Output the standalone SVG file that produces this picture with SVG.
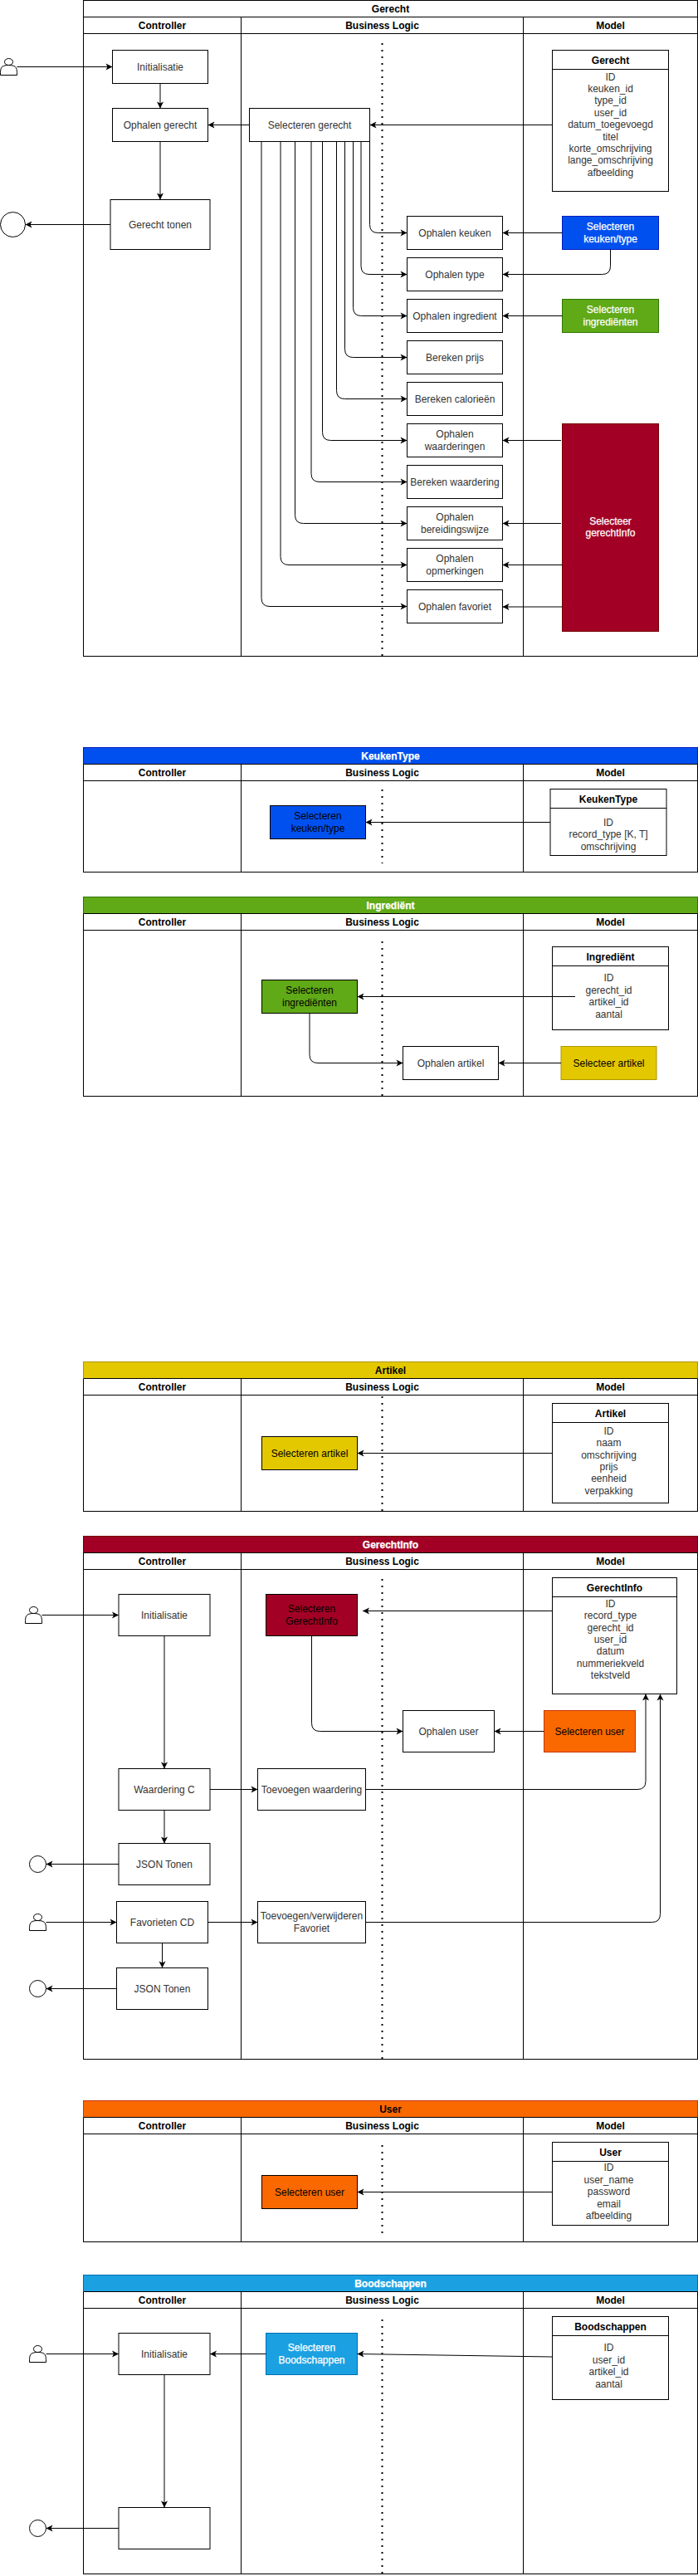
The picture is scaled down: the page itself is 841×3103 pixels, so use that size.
<svg xmlns="http://www.w3.org/2000/svg" width="841" height="3103" viewBox="0 0 841 3103">
<style>
text{font-family:"Liberation Sans",Arial,sans-serif;font-size:12px;text-anchor:middle;fill:#333}
.b{font-weight:bold;fill:#000}
.w{fill:#fff;stroke:#fff;stroke-width:.25}
rect,path.s,ellipse{stroke:#000;fill:#fff}
.l{stroke:#000;fill:none}
.d{stroke:#000;stroke-width:2;stroke-dasharray:2 6;fill:none}
.c{stroke:#000;fill:none;marker-end:url(#a)}
.blue{fill:#0050ef;stroke:#001dbc}
.green{fill:#60a917;stroke:#2d7600}
.yellow{fill:#e3c800;stroke:#b09500}
.red{fill:#a20025;stroke:#6f0000}
.orange{fill:#fa6800;stroke:#c73500}
.sky{fill:#1ba1e2;stroke:#006eaf}
.blueK{fill:#0050ef}.greenK{fill:#60a917}.yellowK{fill:#e3c800}.redK{fill:#a20025}.orangeK{fill:#fa6800}
.blueK~text,.greenK~text,.yellowK~text,.redK~text,.orangeK~text,.yellow~text,.orange~text{fill:#000}
</style>
<defs>
<marker id="a" markerUnits="userSpaceOnUse" markerWidth="10" markerHeight="10" refX="8" refY="4" orient="auto" overflow="visible"><path d="M0 0L8 4L0 8L2 4Z" fill="#000"/></marker>
</defs>

<g id="lane-gerecht">
<rect x="100.5" y="0.5" width="740" height="790"/><path class="l" d="M100.5 20.5H840.5M100.5 40.5H840.5M290.5 20.5V790.5M630.5 20.5V790.5"/>
<text class="b" x="470.5" y="14.5">Gerecht</text><text class="b" x="195.5" y="34.5">Controller</text><text class="b" x="460.5" y="34.5">Business Logic</text><text class="b" x="735.5" y="34.5">Model</text>
<path class="d" d="M460.5 52V790"/>
</g>
<g id="lane-keukentype">
<rect x="100.5" y="900.5" width="740" height="150"/><rect class="blue" x="100.5" y="900.5" width="740" height="20"/><path class="l" d="M100.5 920.5H840.5M100.5 940.5H840.5M290.5 920.5V1050.5M630.5 920.5V1050.5"/>
<text class="b w" x="470.5" y="914.5">KeukenType</text><text class="b" x="195.5" y="934.5">Controller</text><text class="b" x="460.5" y="934.5">Business Logic</text><text class="b" x="735.5" y="934.5">Model</text>
<path class="d" d="M460.5 951V1040"/>
</g>
<g id="lane-ingredient">
<rect x="100.5" y="1080.5" width="740" height="240"/><rect class="green" x="100.5" y="1080.5" width="740" height="20"/><path class="l" d="M100.5 1100.5H840.5M100.5 1120.5H840.5M290.5 1100.5V1320.5M630.5 1100.5V1320.5"/>
<text class="b w" x="470.5" y="1094.5">Ingrediënt</text><text class="b" x="195.5" y="1114.5">Controller</text><text class="b" x="460.5" y="1114.5">Business Logic</text><text class="b" x="735.5" y="1114.5">Model</text>
<path class="d" d="M460.5 1134V1320"/>
</g>
<g id="lane-artikel">
<rect x="100.5" y="1640.5" width="740" height="180"/><rect class="yellow" x="100.5" y="1640.5" width="740" height="20"/><path class="l" d="M100.5 1660.5H840.5M100.5 1680.5H840.5M290.5 1660.5V1820.5M630.5 1660.5V1820.5"/>
<text class="b" x="470.5" y="1654.5">Artikel</text><text class="b" x="195.5" y="1674.5">Controller</text><text class="b" x="460.5" y="1674.5">Business Logic</text><text class="b" x="735.5" y="1674.5">Model</text>
<path class="d" d="M460.5 1682V1820"/>
</g>
<g id="lane-gerechtinfo">
<rect x="100.5" y="1850.5" width="740" height="630"/><rect class="red" x="100.5" y="1850.5" width="740" height="20"/><path class="l" d="M100.5 1870.5H840.5M100.5 1890.5H840.5M290.5 1870.5V2480.5M630.5 1870.5V2480.5"/>
<text class="b w" x="470.5" y="1864.5">GerechtInfo</text><text class="b" x="195.5" y="1884.5">Controller</text><text class="b" x="460.5" y="1884.5">Business Logic</text><text class="b" x="735.5" y="1884.5">Model</text>
<path class="d" d="M460.5 1902V2480"/>
</g>
<g id="lane-user">
<rect x="100.5" y="2530.5" width="740" height="170"/><rect class="orange" x="100.5" y="2530.5" width="740" height="20"/><path class="l" d="M100.5 2550.5H840.5M100.5 2570.5H840.5M290.5 2550.5V2700.5M630.5 2550.5V2700.5"/>
<text class="b" x="470.5" y="2544.5">User</text><text class="b" x="195.5" y="2564.5">Controller</text><text class="b" x="460.5" y="2564.5">Business Logic</text><text class="b" x="735.5" y="2564.5">Model</text>
<path class="d" d="M460.5 2584V2690"/>
</g>
<g id="lane-boodschappen">
<rect x="100.5" y="2740.5" width="740" height="360"/><rect class="sky" x="100.5" y="2740.5" width="740" height="20"/><path class="l" d="M100.5 2760.5H840.5M100.5 2780.5H840.5M290.5 2760.5V3100.5M630.5 2760.5V3100.5"/>
<text class="b w" x="470.5" y="2754.5">Boodschappen</text><text class="b" x="195.5" y="2774.5">Controller</text><text class="b" x="460.5" y="2774.5">Business Logic</text><text class="b" x="735.5" y="2774.5">Model</text>
<path class="d" d="M460.5 2794V3100"/>
</g>

<g id="g-actor"><path class="s" d="M0.5 90.5C0.5 82.5 0.5 78.5 10.5 78.5C3.83 78.5 3.83 70.5 10.5 70.5C17.17 70.5 17.17 78.5 10.5 78.5C20.5 78.5 20.5 82.5 20.5 90.5Z"/></g>
<g id="g-end"><ellipse cx="15.5" cy="270.5" rx="15" ry="15"/></g>
<g id="g-init"><rect x="135.5" y="60.5" width="115" height="40"/><text x="193" y="84.5">Initialisatie</text></g>
<g id="g-ophalen"><rect x="135.5" y="130.5" width="115" height="40"/><text x="193" y="154.5">Ophalen gerecht</text></g>
<g id="g-tonen"><rect x="133" y="240.5" width="120" height="60"/><text x="193" y="274.5">Gerecht tonen</text></g>
<g id="g-selecteren"><rect x="300.5" y="130.5" width="145" height="40"/><text x="373" y="154.5">Selecteren gerecht</text></g>
<g id="g-entity"><rect x="665.5" y="60.5" width="140" height="170"/><path class="l" d="M665.5 83.5H805.5"/><text class="b" x="735.5" y="76.5">Gerecht</text>
<text x="735.5" y="82.1"><tspan x="735.5" dy="14.4">ID</tspan><tspan x="735.5" dy="14.4">keuken_id</tspan><tspan x="735.5" dy="14.4">type_id</tspan><tspan x="735.5" dy="14.4">user_id</tspan><tspan x="735.5" dy="14.4">datum_toegevoegd</tspan><tspan x="735.5" dy="14.4">titel</tspan><tspan x="735.5" dy="14.4">korte_omschrijving</tspan><tspan x="735.5" dy="14.4">lange_omschrijving</tspan><tspan x="735.5" dy="14.4">afbeelding</tspan></text></g>
<g id="g-keuken"><rect x="490.5" y="260.5" width="115" height="40"/><text x="548" y="284.5">Ophalen keuken</text></g>
<g id="g-type"><rect x="490.5" y="310.5" width="115" height="40"/><text x="548" y="334.5">Ophalen type</text></g>
<g id="g-ingredient"><rect x="490.5" y="360.5" width="115" height="40"/><text x="548" y="384.5">Ophalen ingredient</text></g>
<g id="g-prijs"><rect x="490.5" y="410.5" width="115" height="40"/><text x="548" y="434.5">Bereken prijs</text></g>
<g id="g-calorie"><rect x="490.5" y="460.5" width="115" height="40"/><text x="548" y="484.5">Bereken calorieën</text></g>
<g id="g-waarderingen"><rect x="490.5" y="510.5" width="115" height="40"/><text x="548" y="527.3">Ophalen</text><text x="548" y="541.7">waarderingen</text></g>
<g id="g-waardering"><rect x="490.5" y="560.5" width="115" height="40"/><text x="548" y="584.5">Bereken waardering</text></g>
<g id="g-bereiding"><rect x="490.5" y="610.5" width="115" height="40"/><text x="548" y="627.3">Ophalen</text><text x="548" y="641.7">bereidingswijze</text></g>
<g id="g-opmerkingen"><rect x="490.5" y="660.5" width="115" height="40"/><text x="548" y="677.3">Ophalen</text><text x="548" y="691.7">opmerkingen</text></g>
<g id="g-favoriet"><rect x="490.5" y="710.5" width="115" height="40"/><text x="548" y="734.5">Ophalen favoriet</text></g>
<g id="g-sel-keuken"><rect class="blue" x="677.5" y="260.5" width="116" height="40"/><text class="w" x="735.5" y="277.3">Selecteren</text><text class="w" x="735.5" y="291.7">keuken/type</text></g>
<g id="g-sel-ingredienten"><rect class="green" x="677.5" y="360.5" width="116" height="40"/><text class="w" x="735.5" y="377.3">Selecteren</text><text class="w" x="735.5" y="391.7">ingrediënten</text></g>
<g id="g-sel-info"><rect class="red" x="677.5" y="510.5" width="116" height="250"/><text class="w" x="735.5" y="632">Selecteer</text><text class="w" x="735.5" y="646.4">gerechtInfo</text></g>

<g id="k-sel"><rect class="blueK" x="325.5" y="970.5" width="115" height="40"/><text x="383" y="987.3">Selecteren</text><text x="383" y="1001.7">keuken/type</text></g>
<g id="k-entity"><rect x="663" y="950.5" width="140" height="80"/><path class="l" d="M663 973.5H803"/><text class="b" x="733" y="966.5">KeukenType</text>
<text x="733" y="980.3"><tspan x="733" dy="14.4">ID</tspan><tspan x="733" dy="14.4">record_type [K, T]</tspan><tspan x="733" dy="14.4">omschrijving</tspan></text></g>

<g id="i-sel"><rect class="greenK" x="315.5" y="1180.5" width="115" height="40"/><text x="373" y="1197.3">Selecteren</text><text x="373" y="1211.7">ingrediënten</text></g>
<g id="i-entity"><rect x="665.5" y="1140.5" width="140" height="100"/><path class="l" d="M665.5 1163.5H805.5"/><text class="b" x="735.5" y="1156.5">Ingrediënt</text>
<text x="733.5" y="1167.9"><tspan x="733.5" dy="14.4">ID</tspan><tspan x="733.5" dy="14.4">gerecht_id</tspan><tspan x="733.5" dy="14.4">artikel_id</tspan><tspan x="733.5" dy="14.4">aantal</tspan></text></g>
<g id="i-artikel"><rect x="485.5" y="1260.5" width="115" height="40"/><text x="543" y="1284.5">Ophalen artikel</text></g>
<g id="i-sel-artikel"><rect class="yellow" x="676" y="1260.5" width="115" height="40"/><text x="733.5" y="1284.5">Selecteer artikel</text></g>

<g id="a-sel"><rect class="yellowK" x="315.5" y="1730.5" width="115" height="40"/><text x="373" y="1754.5">Selecteren artikel</text></g>
<g id="a-entity"><rect x="665.5" y="1690.5" width="140" height="120"/><path class="l" d="M665.5 1713.5H805.5"/><text class="b" x="735.5" y="1706.5">Artikel</text>
<text x="733.5" y="1713.4"><tspan x="733.5" dy="14.4">ID</tspan><tspan x="733.5" dy="14.4">naam</tspan><tspan x="733.5" dy="14.4">omschrijving</tspan><tspan x="733.5" dy="14.4">prijs</tspan><tspan x="733.5" dy="14.4">eenheid</tspan><tspan x="733.5" dy="14.4">verpakking</tspan></text></g>

<g id="gi-actor1"><path class="s" d="M30.5 1955.5C30.5 1947.5 30.5 1943.5 40.5 1943.5C33.83 1943.5 33.83 1935.5 40.5 1935.5C47.17 1935.5 47.17 1943.5 40.5 1943.5C50.5 1943.5 50.5 1947.5 50.5 1955.5Z"/></g>
<g id="gi-init"><rect x="143" y="1920.5" width="110" height="50"/><text x="198" y="1949.5">Initialisatie</text></g>
<g id="gi-sel"><rect class="redK" x="320.5" y="1920.5" width="110" height="50"/><text x="375.5" y="1942.3">Selecteren</text><text x="375.5" y="1956.7">GerechtInfo</text></g>
<g id="gi-entity"><rect x="665.5" y="1900.5" width="150" height="140"/><path class="l" d="M665.5 1923.5H815.5"/><text class="b" x="740.5" y="1916.5">GerechtInfo</text>
<text x="735.5" y="1921.3"><tspan x="735.5" dy="14.4">ID</tspan><tspan x="735.5" dy="14.4">record_type</tspan><tspan x="735.5" dy="14.4">gerecht_id</tspan><tspan x="735.5" dy="14.4">user_id</tspan><tspan x="735.5" dy="14.4">datum</tspan><tspan x="735.5" dy="14.4">nummeriekveld</tspan><tspan x="735.5" dy="14.4">tekstveld</tspan></text></g>
<g id="gi-user"><rect x="485.5" y="2060.5" width="110" height="50"/><text x="540.5" y="2089.5">Ophalen user</text></g>
<g id="gi-sel-user"><rect class="orange" x="655.5" y="2060.5" width="110" height="50"/><text x="710.5" y="2089.5">Selecteren user</text></g>
<g id="gi-waardering"><rect x="143" y="2130.5" width="110" height="50"/><text x="198" y="2159.5">Waardering C</text></g>
<g id="gi-toevoegen"><rect x="310.5" y="2130.5" width="130" height="50"/><text x="375.5" y="2159.5">Toevoegen waardering</text></g>
<g id="gi-json1"><rect x="143" y="2220.5" width="110" height="50"/><text x="198" y="2249.5">JSON Tonen</text></g>
<g id="gi-end1"><ellipse cx="45.5" cy="2245.5" rx="10" ry="10"/></g>
<g id="gi-actor2"><path class="s" d="M35.5 2325.5C35.5 2317.5 35.5 2313.5 45.5 2313.5C38.83 2313.5 38.83 2305.5 45.5 2305.5C52.17 2305.5 52.17 2313.5 45.5 2313.5C55.5 2313.5 55.5 2317.5 55.5 2325.5Z"/></g>
<g id="gi-favorieten"><rect x="140.5" y="2290.5" width="110" height="50"/><text x="195.5" y="2319.5">Favorieten CD</text></g>
<g id="gi-toev-fav"><rect x="310.5" y="2290.5" width="130" height="50"/><text x="375.5" y="2312.3">Toevoegen/verwijderen</text><text x="375.5" y="2326.7">Favoriet</text></g>
<g id="gi-json2"><rect x="140.5" y="2370.5" width="110" height="50"/><text x="195.5" y="2399.5">JSON Tonen</text></g>
<g id="gi-end2"><ellipse cx="45.5" cy="2395.5" rx="10" ry="10"/></g>

<g id="u-sel"><rect class="orangeK" x="315.5" y="2620.5" width="115" height="40"/><text x="373" y="2644.5">Selecteren user</text></g>
<g id="u-entity"><rect x="665.5" y="2580.5" width="140" height="100"/><path class="l" d="M665.5 2603.5H805.5"/><text class="b" x="735.5" y="2596.5">User</text>
<text x="733.5" y="2601"><tspan x="733.5" dy="14.4">ID</tspan><tspan x="733.5" dy="14.4">user_name</tspan><tspan x="733.5" dy="14.4">password</tspan><tspan x="733.5" dy="14.4">email</tspan><tspan x="733.5" dy="14.4">afbeelding</tspan></text></g>

<g id="b-actor"><path class="s" d="M35.5 2845.5C35.5 2837.5 35.5 2833.5 45.5 2833.5C38.83 2833.5 38.83 2825.5 45.5 2825.5C52.17 2825.5 52.17 2833.5 45.5 2833.5C55.5 2833.5 55.5 2837.5 55.5 2845.5Z"/></g>
<g id="b-init"><rect x="143" y="2810.5" width="110" height="50"/><text x="198" y="2839.5">Initialisatie</text></g>
<g id="b-sel"><rect class="sky" x="320.5" y="2810.5" width="110" height="50"/><text class="w" x="375.5" y="2832.3">Selecteren</text><text class="w" x="375.5" y="2846.7">Boodschappen</text></g>
<g id="b-entity"><rect x="665.5" y="2790.5" width="140" height="100"/><path class="l" d="M665.5 2813.5H805.5"/><text class="b" x="735.5" y="2806.5">Boodschappen</text>
<text x="733.5" y="2818"><tspan x="733.5" dy="14.4">ID</tspan><tspan x="733.5" dy="14.4">user_id</tspan><tspan x="733.5" dy="14.4">artikel_id</tspan><tspan x="733.5" dy="14.4">aantal</tspan></text></g>
<g id="b-empty"><rect x="143" y="3020.5" width="110" height="50"/></g>
<g id="b-end"><ellipse cx="45.5" cy="3045.5" rx="10" ry="10"/></g>

<g id="connectors">
<path class="c" d="M20.5 80.5H135.5"/>
<path class="c" d="M193 100.5V130.5"/>
<path class="c" d="M193 170.5V240.5"/>
<path class="c" d="M133 270.5H30.5"/>
<path class="c" d="M300.5 150.5H250.5"/>
<path class="c" d="M665.5 150.5H445.5"/>
<path class="c" d="M445.5 170.5V270.5Q445.5 280.5 455.5 280.5H490.5"/>
<path class="c" d="M435 170.5V320.5Q435 330.5 445 330.5H490.5"/>
<path class="c" d="M425.5 170.5V370.5Q425.5 380.5 435.5 380.5H490.5"/>
<path class="c" d="M415.5 170.5V420.5Q415.5 430.5 425.5 430.5H490.5"/>
<path class="c" d="M405.5 170.5V470.5Q405.5 480.5 415.5 480.5H490.5"/>
<path class="c" d="M388.5 170.5V520.5Q388.5 530.5 398.5 530.5H490.5"/>
<path class="c" d="M375 170.5V570.5Q375 580.5 385 580.5H490.5"/>
<path class="c" d="M355.5 170.5V620.5Q355.5 630.5 365.5 630.5H490.5"/>
<path class="c" d="M338 170.5V670.5Q338 680.5 348 680.5H490.5"/>
<path class="c" d="M315 170.5V720.5Q315 730.5 325 730.5H490.5"/>
<path class="c" d="M677.5 280.5H605.5"/>
<path class="c" d="M735.5 300.5V320.5Q735.5 330.5 725.5 330.5H605.5"/>
<path class="c" d="M677.5 380.5H605.5"/>
<path class="c" d="M676 530.5H605.5"/>
<path class="c" d="M676 630.5H605.5"/>
<path class="c" d="M677.5 680.5H605.5"/>
<path class="c" d="M677.5 731H605.5"/>

<path class="c" d="M663 990.5H440.5"/>

<path class="c" d="M693 1200.5H430.5"/>
<path class="c" d="M373 1220.5V1270.5Q373 1280.5 383 1280.5H485.5"/>
<path class="c" d="M676 1280.5H600.5"/>

<path class="c" d="M665.5 1750.5H430.5"/>

<path class="c" d="M50.5 1945.5H143"/>
<path class="c" d="M665.5 1940.5H437"/>
<path class="c" d="M198 1970.5V2130.5"/>
<path class="c" d="M375.5 1970.5V2075.5Q375.5 2085.5 385.5 2085.5H485.5"/>
<path class="c" d="M655.5 2085.5H595.5"/>
<path class="c" d="M253 2155.5H310.5"/>
<path class="c" d="M440.5 2155.5H768Q778 2155.5 778 2145.5V2040.5"/>
<path class="c" d="M198 2180.5V2220.5"/>
<path class="c" d="M143 2245.5H55.5"/>
<path class="c" d="M55.5 2315.5H140.5"/>
<path class="c" d="M250.5 2315.5H310.5"/>
<path class="c" d="M440.5 2315.5H785.5Q795.5 2315.5 795.5 2305.5V2040.5"/>
<path class="c" d="M195.5 2340.5V2370.5"/>
<path class="c" d="M140.5 2395.5H55.5"/>

<path class="c" d="M665.5 2640.5H430.5"/>

<path class="c" d="M55.5 2835.5H143"/>
<path class="c" d="M320.5 2835.5H253"/>
<path class="c" d="M665.5 2839L430.5 2835.5"/>
<path class="c" d="M198 2860.5V3020.5"/>
<path class="c" d="M143 3045.5H55.5"/>
</g>
</svg>
